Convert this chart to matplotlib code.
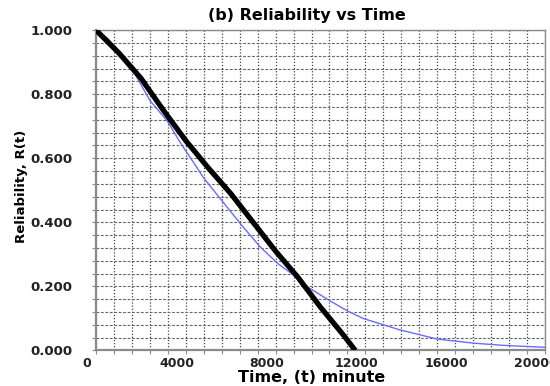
import matplotlib
matplotlib.use("Agg")
import matplotlib.pyplot as plt
import matplotlib.transforms as mtransforms
from matplotlib.ticker import MultipleLocator, FormatStrFormatter

t_black = [0, 1000, 2000, 3000, 4000, 5000, 6000, 7000, 8000, 9000, 10000,
           11000, 11550]
r_black = [1.0, 0.93, 0.85, 0.75, 0.655, 0.57, 0.49, 0.40, 0.31, 0.228, 0.135,
           0.05, 0.0]

# fitted reliability (thin blue)
t_blue = [0, 500, 1370, 2405, 3190, 3742, 4334, 4780, 5821, 6500, 7305, 8120,
          8790, 9385, 10420, 11240, 11900, 13500, 15175, 16800, 18140, 20000]
r_blue = [1.0, 0.975, 0.908, 0.78, 0.715, 0.65, 0.588, 0.54, 0.449, 0.39,
          0.324, 0.27, 0.236, 0.20, 0.155, 0.122, 0.10, 0.065, 0.036, 0.023,
          0.016, 0.010]

title = "(b) Reliability vs Time"
xlabel = "Time, (t) minute"
ylabel = "Reliability, R(t)"

fig = plt.figure(figsize=(5.5, 3.86), dpi=100)
ax = fig.add_axes([0.1745, 0.092, 0.8165, 0.83])

ax.plot(t_blue, r_blue, color="#6b6bff", lw=1.0, zorder=3)
ax.plot(t_black, r_black, color="black", lw=3.8, solid_joinstyle="round",
        solid_capstyle="butt", zorder=4)

ax.set_xlim(0, 20000)
ax.set_ylim(0, 1.0)
ax.xaxis.set_major_locator(MultipleLocator(4000))
ax.xaxis.set_minor_locator(MultipleLocator(800))
ax.yaxis.set_major_locator(MultipleLocator(0.2))
ax.yaxis.set_minor_locator(MultipleLocator(0.04))
ax.yaxis.set_major_formatter(FormatStrFormatter("%.3f"))
ax.xaxis.set_major_formatter(FormatStrFormatter("%d"))

ax.grid(which="both", axis="x", color="#444444", lw=0.9, ls=(0, (1, 1.5)))
ax.grid(which="both", axis="y", color="#666666", lw=0.8, ls=(0, (2.5, 1.5)))
ax.set_axisbelow(True)

for s in ax.spines.values():
    s.set_color("#8a8a8a")
    s.set_linewidth(1.0)
ax.spines["bottom"].set_linewidth(1.6)
ax.spines["left"].set_linewidth(1.6)

ax.tick_params(which="both", direction="out", color="#8a8a8a", length=3, width=0.8)
ax.tick_params(axis="x", pad=2, labelsize=9)
ax.tick_params(axis="y", pad=14, labelsize=9.5, length=3)
for lab in ax.get_xticklabels() + ax.get_yticklabels():
    lab.set_fontweight("bold")
    lab.set_color("#222222")

# x labels sit a little left of their grid lines in the original
shift = mtransforms.ScaledTranslation(-9 / 100, 0, fig.dpi_scale_trans)
for lab in ax.get_xticklabels():
    lab.set_transform(lab.get_transform() + shift)

fig.text(0.558, 0.961, title, ha="center", va="center", fontsize=11.5,
         fontweight="bold")
fig.text(0.567, 0.022, xlabel, ha="center", va="center", fontsize=11.5,
         fontweight="bold")
fig.text(0.04, 0.516, ylabel, ha="center", va="center", rotation=90,
         fontsize=9.5, fontweight="bold")

fig.savefig("out.png", dpi=100)
